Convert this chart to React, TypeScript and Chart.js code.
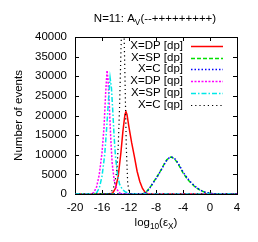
import React, { useEffect, useRef } from "react";
import { Chart, registerables } from "chart.js";
Chart.register(...registerables);

const FONT = '"Liberation Sans", Arial, Helvetica, sans-serif';

const xTickValues = [-20, -16, -12, -8, -4, 0, 4];
const yTickValues = [0, 5000, 10000, 15000, 20000, 25000, 30000, 35000, 40000];
const seriesLabels = ["X=DP [dp]", "X=SP [dp]", "X=C [dp]", "X=DP [qp]", "X=SP [qp]", "X=C [qp]"];
const seriesColors = ["#ff0000", "#00e000", "#0000ff", "#ff00ff", "#00e8e8", "#000000"];
const seriesDashes: number[][] = [[], [4, 2], [1.5, 2], [2, 1.5], [5, 2, 1.5, 2], [1.2, 3]];
const seriesWidths = [1.5, 1.5, 1.5, 1.5, 1.5, 1.2];

// DP [dp]
const dpDpX = [-20, -14.8, -14.4, -14.0, -13.6, -13.2, -12.9, -12.6, -12.45, -12.3, -12.0, -11.6, -11.2, -10.8, -10.4, -10.0, -9.6, -9.2, 4];
const dpDpY = [0, 0, 300, 1500, 4500, 10500, 16000, 20300, 21000, 20300, 17000, 13000, 9500, 5800, 3200, 1400, 400, 0, 0];
// SP [dp]
const spDpX = [-20, -10.0, -9.6, -9.2, -8.8, -8.4, -8.0, -7.6, -7.2, -6.8, -6.4, -6.0, -5.8, -5.6, -5.2, -4.8, -4.4, -4.0, -3.6, -3.2, -2.8, -2.4, -2.0, -1.6, -1.2, -0.8, -0.4, 0, 0.4, 0.8, 1.2, 1.6, 4];
const spDpY = [0, 0, 300, 1000, 1900, 3000, 4000, 5100, 6300, 7600, 8700, 9300, 9400, 9300, 8850, 7900, 6700, 5400, 4400, 3500, 2800, 2100, 1550, 1100, 750, 480, 300, 170, 90, 40, 15, 0, 0];
// C [dp]
const cDpX = [-20, -10.0, -9.6, -9.2, -8.8, -8.4, -8.0, -7.6, -7.2, -6.8, -6.4, -6.0, -5.8, -5.6, -5.2, -4.8, -4.4, -4.0, -3.6, -3.2, -2.8, -2.4, -2.0, -1.6, -1.2, -0.8, -0.4, 0, 0.4, 0.8, 1.2, 1.6, 4];
const cDpY = [0, 0, 250, 900, 1800, 2900, 3900, 5000, 6200, 7500, 8600, 9300, 9450, 9350, 8950, 8050, 6900, 5600, 4600, 3700, 2950, 2250, 1650, 1200, 800, 520, 320, 180, 95, 45, 15, 0, 0];
// DP [qp]
const dpQpX = [-20, -17.6, -17.2, -16.8, -16.4, -16.0, -15.7, -15.45, -15.25, -15.1, -14.9, -14.7, -14.5, -14.2, -13.8, -13.4, -13.0, 4];
const dpQpY = [0, 0, 400, 1800, 5000, 10500, 17000, 26000, 31500, 29000, 22000, 14000, 8000, 3500, 1200, 300, 0, 0];
// SP [qp]
const spQpX = [-20, -17.2, -16.8, -16.4, -16.0, -15.6, -15.3, -15.0, -14.8, -14.6, -14.4, -14.2, -14.0, -13.7, -13.4, -13.0, -12.6, -12.2, -11.8, -11.4, 4];
const spQpY = [0, 0, 300, 1500, 4500, 10000, 17000, 25000, 29600, 27000, 21000, 14500, 9500, 5000, 2500, 1200, 600, 250, 80, 0, 0];
// C [qp]
const cQpX = [-20, -15.0, -14.6, -14.2, -13.8, -13.6, -13.4, -13.2, -13.0, -12.9, -12.8, -12.6, -12.4, -12.2, -12.0, -11.8, 4];
const cQpY = [0, 0, 600, 2000, 6000, 12000, 22000, 36000, 48000, 50000, 47000, 30000, 12000, 3000, 500, 0, 0];

const seriesX = [dpDpX, spDpX, cDpX, dpQpX, spQpX, cQpX];
const seriesY = [dpDpY, spDpY, cDpY, dpQpY, spQpY, cQpY];

function drawRich(ctx: CanvasRenderingContext2D, parts: [string, boolean][], cx: number, baseY: number, size: number) {
  const subSize = size * 0.72;
  let total = 0;
  const widths = parts.map(([t, sub]) => {
    ctx.font = `${sub ? subSize : size}px ${FONT}`;
    const w = ctx.measureText(t).width;
    total += w;
    return w;
  });
  let x = cx - total / 2;
  ctx.textAlign = "left";
  ctx.textBaseline = "alphabetic";
  parts.forEach(([t, sub], i) => {
    ctx.font = `${sub ? subSize : size}px ${FONT}`;
    ctx.fillText(t, x, sub ? baseY + size * 0.3 : baseY);
    x += widths[i];
  });
}

const framePlugin = {
  id: "frame",
  beforeDatasetsDraw(chart: any) {
    const { ctx, chartArea: a } = chart;
    ctx.save();
    ctx.strokeStyle = "#000";
    ctx.lineWidth = 1;
    ctx.strokeRect(Math.round(a.left) + 0.5, Math.round(a.top) + 0.5, Math.round(a.right - a.left), Math.round(a.bottom - a.top));
    const xs = chart.scales.x;
    const ys = chart.scales.y;
    const tl = 4;
    ctx.beginPath();
    xTickValues.forEach((v) => {
      const px = Math.round(xs.getPixelForValue(v)) + 0.5;
      ctx.moveTo(px, a.bottom);
      ctx.lineTo(px, a.bottom - tl);
      ctx.moveTo(px, a.top);
      ctx.lineTo(px, a.top + tl);
    });
    yTickValues.forEach((v) => {
      const py = Math.round(ys.getPixelForValue(v)) + 0.5;
      ctx.moveTo(a.left, py);
      ctx.lineTo(a.left + tl, py);
      ctx.moveTo(a.right, py);
      ctx.lineTo(a.right - tl, py);
    });
    ctx.stroke();
    ctx.restore();
  },
  afterDraw(chart: any) {
    const { ctx, chartArea: a } = chart;
    ctx.save();
    ctx.fillStyle = "#000";
    drawRich(ctx, [["N=11: A", false], ["V", true], ["(--+++++++++)", false]], 155, 22, 11.5);
    drawRich(ctx, [["log", false], ["10", true], ["(\u03b5", false], ["X", true], [")", false]], 156, 226, 11.5);
    ctx.save();
    ctx.translate(19, (a.top + a.bottom) / 2);
    ctx.rotate(-Math.PI / 2);
    ctx.font = `11.5px ${FONT}`;
    ctx.textAlign = "center";
    ctx.textBaseline = "middle";
    ctx.fillText("Number of events", 0, 0);
    ctx.restore();
    const textRight = 183;
    const lineL = 191;
    const lineR = 223;
    const y0 = 45.7;
    const dy = 11.8;
    seriesLabels.forEach((lab, i) => {
      const y = y0 + i * dy;
      ctx.font = `11.5px ${FONT}`;
      ctx.textAlign = "right";
      ctx.textBaseline = "middle";
      ctx.fillStyle = "#000";
      ctx.fillText(lab, textRight, y);
      ctx.beginPath();
      ctx.strokeStyle = seriesColors[i];
      ctx.lineWidth = seriesWidths[i];
      ctx.setLineDash(seriesDashes[i]);
      ctx.moveTo(lineL, Math.round(y) + 0.5);
      ctx.lineTo(lineR, Math.round(y) + 0.5);
      ctx.stroke();
    });
    ctx.setLineDash([]);
    ctx.restore();
  },
};

export default function App() {
  const ref = useRef<HTMLCanvasElement | null>(null);
  useEffect(() => {
    if (!ref.current) return;
    const datasets = seriesLabels.map((label, i) => ({
      label,
      data: seriesX[i].map((x, j) => ({ x, y: seriesY[i][j] })),
      borderColor: seriesColors[i],
      backgroundColor: seriesColors[i],
      borderWidth: seriesWidths[i],
      borderDash: seriesDashes[i],
      pointRadius: 0,
      tension: 0,
      fill: false,
      order: seriesLabels.length - i,
    }));
    const chart = new Chart(ref.current, {
      type: "line",
      data: { datasets },
      plugins: [framePlugin],
      options: {
        animation: false,
        responsive: false,
        maintainAspectRatio: false,
        devicePixelRatio: 1,
        layout: { padding: { top: 37, left: 0, right: 21, bottom: 0 } },
        plugins: { legend: { display: false }, tooltip: { enabled: false }, title: { display: false } },
        scales: {
          x: {
            type: "linear",
            min: -20,
            max: 4,
            afterBuildTicks: (s: any) => { s.ticks = xTickValues.map((v) => ({ value: v })); },
            afterFit: (s: any) => { s.height = 48; },
            grid: { display: false, drawTicks: false },
            border: { display: false },
            ticks: { color: "#000", padding: 7, maxRotation: 0, autoSkip: false, font: { family: FONT, size: 11.5 }, callback: (v: any) => String(v) },
          },
          y: {
            type: "linear",
            min: 0,
            max: 40000,
            afterBuildTicks: (s: any) => { s.ticks = yTickValues.map((v) => ({ value: v })); },
            afterFit: (s: any) => { s.width = 75; },
            grid: { display: false, drawTicks: false },
            border: { display: false },
            ticks: { color: "#000", padding: 8, autoSkip: false, font: { family: FONT, size: 11.5 }, callback: (v: any) => String(v) },
          },
        },
      },
    } as any);
    return () => chart.destroy();
  }, []);
  return (
    <div style={{ position: "absolute", left: 0, top: 0, width: 258, height: 242, background: "#fff" }}>
      <canvas ref={ref} width={258} height={242} style={{ width: 258, height: 242, display: "block" }} />
    </div>
  );
}
